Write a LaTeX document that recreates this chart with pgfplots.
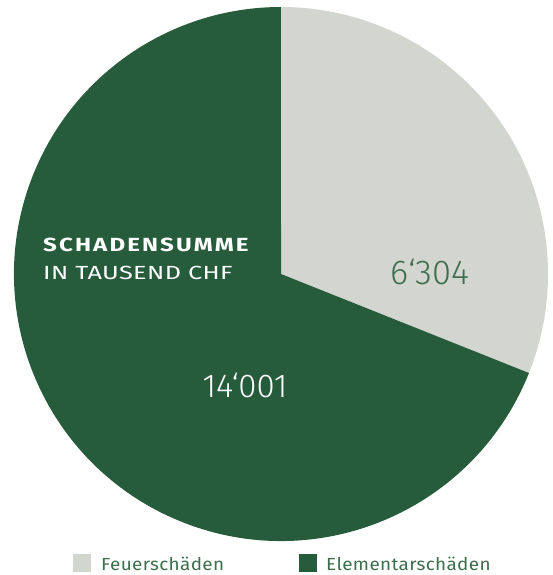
\documentclass[border=0pt]{standalone}
\usepackage{fontspec}
\setmainfont{Fira Sans}
\newfontfamily\lightfont{Fira Sans Light}
\newfontfamily\boldspaced{Fira Sans}[LetterSpace=11,FakeStretch=1.27]
\newfontfamily\wideregular{Fira Sans}[FakeStretch=1.33,LetterSpace=2]
\newfontfamily\legendfont{Fira Sans}[FakeStretch=1.08,LetterSpace=2]
\usepackage{pgfplots}
\usepackage{pgfplotstable}
\pgfplotsset{compat=1.18}
\definecolor{dgreen}{HTML}{265C3B}
\definecolor{lgray}{HTML}{D3D5CF}
\definecolor{tgreen}{HTML}{3D6E4E}
\pgfplotstableread{
label value
Feuer 6304
Elementar 14001
}\piedata
\begin{document}
\begin{tikzpicture}
\pgfplotstablegetelem{0}{value}\of\piedata \let\vA\pgfplotsretval
\pgfplotstablegetelem{1}{value}\of\piedata \let\vB\pgfplotsretval
\pgfmathsetmacro{\sA}{\vA/1000}
\pgfmathsetmacro{\sB}{\vB/1000}
\pgfmathsetmacro{\angA}{\sA/(\sA+\sB)*360}
\pgfmathsetmacro{\endA}{90-\angA}
\pgfmathsetmacro{\endB}{\endA-\sB/(\sA+\sB)*360}
\pgfmathsetmacro{\px}{267*cos(\endA)}
\pgfmathsetmacro{\py}{267*sin(\endA)}
\begin{axis}[
  hide axis, scale only axis,
  width=552pt, height=575pt,
  xmin=-281, xmax=271, ymin=-301, ymax=274,
  clip=false,
]
\coordinate (bl) at (axis cs:-281,-301);
\coordinate (tr) at (axis cs:271,274);
\fill[lgray] (axis cs:0,0) -- (axis cs:0,267) arc[start angle=90, end angle=\endA, radius=267pt] -- cycle;
\fill[dgreen] (axis cs:0,0) -- (axis cs:\px,\py) arc[start angle=\endA, end angle=\endB, radius=267pt] -- cycle;
\node[anchor=base west, inner sep=0pt, text=white, font=\boldspaced\bfseries\fontsize{19}{22}\selectfont] at (axis cs:-238,22) {SCHADENSUMME};
\node[anchor=base west, inner sep=0pt, text=white, font=\wideregular\fontsize{19}{22}\selectfont] at (axis cs:-238,-6) {IN TAUSEND CHF};
\node[anchor=center, inner sep=0pt, text=tgreen, font=\lightfont\fontsize{34.5}{36}\selectfont] at (axis cs:149,2) {6‘304};
\node[anchor=center, inner sep=0pt, text=white, font=\lightfont\fontsize{33}{36}\selectfont] at (axis cs:-36,-111) {14‘001};
\fill[lgray] (axis cs:-208,-280) rectangle (axis cs:-190,-298);
\fill[dgreen] (axis cs:18,-280) rectangle (axis cs:36,-298);
\node[anchor=base west, inner sep=0pt, text=tgreen, font=\legendfont\fontsize{17.5}{20}\selectfont] at (axis cs:-180,-296.5) {Feuerschäden};
\node[anchor=base west, inner sep=0pt, text=tgreen, font=\legendfont\fontsize{17.5}{20}\selectfont] at (axis cs:45,-296.5) {Elementarschäden};
\end{axis}
\pgfresetboundingbox
\useasboundingbox (bl) rectangle (tr);
\end{tikzpicture}
\end{document}
